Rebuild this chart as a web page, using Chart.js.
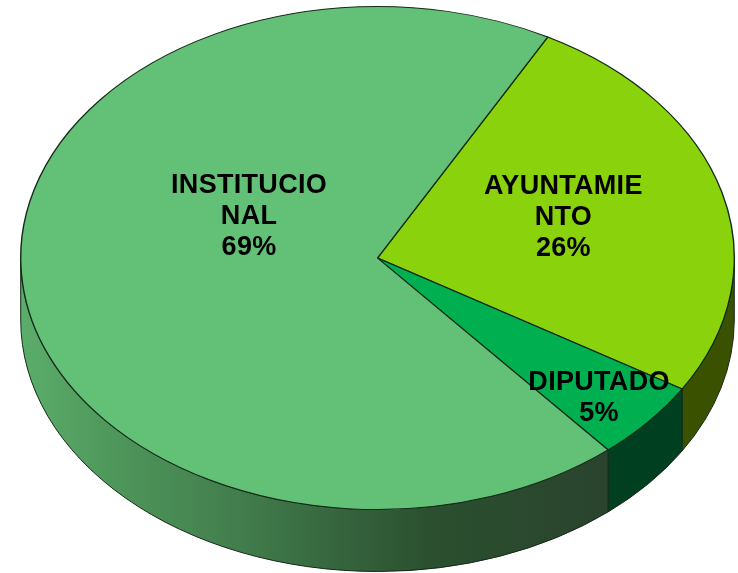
<!DOCTYPE html>
<html>
<head>
<meta charset="utf-8">
<style>
html,body{margin:0;padding:0;background:#fff;}
canvas{display:block;}
</style>
<script src="https://cdn.jsdelivr.net/npm/chart.js@4/dist/chart.umd.min.js"></script>
</head>
<body>
<canvas id="c" width="738" height="573"></canvas>
<script>
const categories = [['AYUNTAMIE','NTO'], ['DIPUTADO'], ['INSTITUCIO','NAL']];
const values = [25.8, 5.1, 69.1];
const topColors = ['#8AD20C', '#00B050', '#63C177'];
const wallColors = ['#3A5200', '#003F20', null];
const startRotation = 28.5;

const ELLIPSE_X = 357.5 / 252;   // horizontal stretch of the tilted pie
const DEPTH = 62;
const EDGE = '#142A18';
const labelOffsets = [[13.6, -8], [86, 58], [49, -54]];

function instWall(ctx, left, right) {
  const g = ctx.createLinearGradient(left, 0, right, 0);
  g.addColorStop(0, '#5BAD6B');
  g.addColorStop(0.18, '#4D9459');
  g.addColorStop(0.36, '#437F4E');
  g.addColorStop(0.52, '#37683F');
  g.addColorStop(0.7, '#2B4F2F');
  g.addColorStop(1, '#2A442E');
  return g;
}

const pie3d = {
  id: 'pie3d',
  beforeDatasetsDraw(chart) {
    const ctx = chart.ctx;
    const arcs = chart.getDatasetMeta(0).data;
    arcs.forEach((arc, i) => {
      const p = arc.getProps(['x', 'y', 'startAngle', 'endAngle', 'outerRadius'], true);
      const a1 = Math.max(p.startAngle, 0);
      const a2 = Math.min(p.endAngle, Math.PI);
      if (a2 <= a1) return;
      const rx = p.outerRadius * ELLIPSE_X, ry = p.outerRadius;
      ctx.save();
      ctx.beginPath();
      ctx.ellipse(p.x, p.y, rx, ry, 0, a1, a2);
      ctx.ellipse(p.x, p.y + DEPTH, rx, ry, 0, a2, a1, true);
      ctx.closePath();
      ctx.fillStyle = wallColors[i] || instWall(ctx, p.x - rx, p.x + rx * Math.cos(a1));
      ctx.fill();
      ctx.lineWidth = 1;
      ctx.strokeStyle = EDGE;
      ctx.stroke();
      ctx.restore();
    });
    // stretch the library's round pie into the tilted ellipse
    const c = arcs[0].getProps(['x', 'y'], true);
    ctx.save();
    ctx.translate(c.x, c.y);
    ctx.scale(ELLIPSE_X, 1);
    ctx.translate(-c.x, -c.y);
  },
  afterDatasetsDraw(chart) {
    const ctx = chart.ctx;
    ctx.restore();
    const arcs = chart.getDatasetMeta(0).data;
    const total = values.reduce((a, b) => a + b, 0);
    ctx.save();
    ctx.fillStyle = '#000';
    ctx.font = 'bold 27px "Liberation Sans", Arial, sans-serif';
    ctx.letterSpacing = '0.3px';
    ctx.textAlign = 'center';
    ctx.textBaseline = 'middle';
    const lh = 31;
    arcs.forEach((arc, i) => {
      const pt = arc.getCenterPoint(true);
      const cx = arc.getProps(['x'], true).x;
      const x = cx + (pt.x - cx) * ELLIPSE_X + labelOffsets[i][0];
      const y = pt.y + labelOffsets[i][1];
      const lines = categories[i].concat(Math.round(values[i] / total * 100) + '%');
      lines.forEach((t, k) => {
        ctx.fillText(t, x, y + (k - (lines.length - 1) / 2) * lh);
      });
    });
    ctx.restore();
  }
};

new Chart(document.getElementById('c'), {
  type: 'pie',
  data: {
    labels: categories.map(l => l.join('')),
    datasets: [{
      data: values,
      backgroundColor: topColors,
      borderColor: EDGE,
      borderWidth: 1,
      clip: false
    }]
  },
  options: {
    responsive: false,
    animation: false,
    rotation: startRotation,
    layout: { padding: { left: 20, right: 3, top: 6, bottom: 63 } },
    plugins: { legend: { display: false }, tooltip: { enabled: false }, title: { display: false } }
  },
  plugins: [pie3d]
});
</script>
</body>
</html>
